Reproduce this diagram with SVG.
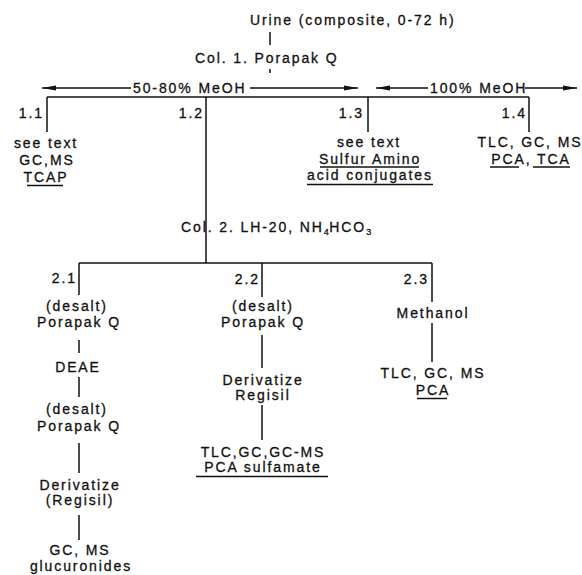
<svg xmlns="http://www.w3.org/2000/svg" width="582" height="575" viewBox="0 0 582 575">
<style>
.t{font-family:"Liberation Sans",Arial,Helvetica,sans-serif;font-size:14px;letter-spacing:1.9px;fill:#111;stroke:#111;stroke-width:0.3}
.m{text-anchor:middle}
.e{text-anchor:end}
.sub{font-size:9px;letter-spacing:0.5px}
.ln{stroke:#111;stroke-width:1.5;fill:none}
.ul{stroke:#111;stroke-width:1.5}
</style>
<defs>
<marker id="ah" viewBox="0 0 14 6" refX="14" refY="3" markerWidth="14" markerHeight="6" orient="auto-start-reverse" markerUnits="userSpaceOnUse">
<path d="M0,0.5 L14,3 L0,5.5 Z" fill="#111"/>
</marker>
</defs>
<rect width="582" height="575" fill="#fff"/>
<g id="connectors">
<line class="ln" x1="270" y1="32" x2="270" y2="45"/>
<line class="ln" x1="270" y1="69" x2="270" y2="73" stroke-width="1"/>
<line class="ln" x1="42" y1="88" x2="131" y2="88" marker-start="url(#ah)"/>
<line class="ln" x1="250" y1="88" x2="358" y2="88" marker-end="url(#ah)"/>
<line class="ln" x1="376" y1="88" x2="428" y2="88" marker-start="url(#ah)"/>
<line class="ln" x1="525" y1="88" x2="577" y2="88" marker-end="url(#ah)"/>
<line class="ln" x1="47" y1="97" x2="529" y2="97"/>
<line class="ln" x1="47" y1="97" x2="47" y2="132"/>
<line class="ln" x1="206" y1="97" x2="206" y2="263"/>
<line class="ln" x1="368" y1="97" x2="368" y2="132"/>
<line class="ln" x1="529" y1="97" x2="529" y2="132"/>
<line class="ln" x1="79" y1="263" x2="432" y2="263"/>
<line class="ln" x1="79" y1="263" x2="79" y2="295"/>
<line class="ln" x1="262" y1="263" x2="262" y2="297"/>
<line class="ln" x1="432" y1="263" x2="432" y2="302"/>
<line class="ln" x1="79" y1="340" x2="79" y2="353"/>
<line class="ln" x1="79" y1="377" x2="79" y2="397"/>
<line class="ln" x1="79" y1="443" x2="79" y2="473"/>
<line class="ln" x1="79" y1="515" x2="79" y2="540"/>
<line class="ln" x1="262" y1="335" x2="262" y2="368"/>
<line class="ln" x1="262" y1="405" x2="262" y2="440"/>
<line class="ln" x1="432" y1="323" x2="432" y2="362"/>
</g>
<g id="urine"><text class="t" x="250" y="25">Urine (composite, 0-72 h)</text></g>
<g id="col1"><text class="t" x="195" y="63">Col. 1. Porapak Q</text></g>
<g id="meoh5080"><text class="t" x="133" y="93">50-80% MeOH</text></g>
<g id="meoh100"><text class="t" x="430" y="93">100% MeOH</text></g>
<g id="n11">
<text class="t e" x="44" y="118">1.1</text>
<text class="t m" x="46" y="148">see text</text>
<text class="t m" x="47" y="165">GC,MS</text>
<text class="t m" x="46" y="182">TCAP</text>
<line class="ul" x1="27" y1="185.5" x2="63" y2="185.5"/>
</g>
<g id="n12"><text class="t e" x="204" y="118">1.2</text></g>
<g id="n13">
<text class="t e" x="364" y="118">1.3</text>
<text class="t m" x="369" y="147">see text</text>
<text class="t m" x="370" y="164">Sulfur Amino</text>
<line class="ul" x1="320" y1="167" x2="419" y2="167"/>
<text class="t m" x="370" y="180">acid conjugates</text>
<line class="ul" x1="307" y1="184.5" x2="433" y2="184.5"/>
</g>
<g id="n14">
<text class="t e" x="527" y="118">1.4</text>
<text class="t m" x="530" y="147">TLC, GC, MS</text>
<text class="t m" x="531" y="164">PCA, TCA</text>
<line class="ul" x1="490" y1="167" x2="519" y2="167"/>
<line class="ul" x1="533" y1="167" x2="570" y2="167"/>
</g>
<g id="col2"><text class="t" x="181" y="232">Col. 2. LH-20, NH<tspan class="sub" dy="3">4</tspan><tspan dy="-3">HCO</tspan><tspan class="sub" dy="3">3</tspan></text></g>
<g id="n21">
<text class="t e" x="77" y="283">2.1</text>
<text class="t m" x="77" y="311">(desalt)</text>
<text class="t m" x="79" y="327">Porapak Q</text>
<text class="t m" x="78" y="372">DEAE</text>
<text class="t m" x="77" y="414">(desalt)</text>
<text class="t m" x="79" y="431">Porapak Q</text>
<text class="t m" x="80" y="490">Derivatize</text>
<text class="t m" x="80" y="505">(Regisil)</text>
<text class="t m" x="80" y="555">GC, MS</text>
<text class="t m" x="81" y="571">glucuronides</text>
</g>
<g id="n22">
<text class="t e" x="260" y="284">2.2</text>
<text class="t m" x="263" y="311">(desalt)</text>
<text class="t m" x="263" y="327">Porapak Q</text>
<text class="t m" x="263" y="385">Derivatize</text>
<text class="t m" x="263" y="400">Regisil</text>
<text class="t m" x="263" y="457">TLC,GC,GC-MS</text>
<text class="t m" x="263" y="472">PCA sulfamate</text>
<line class="ul" x1="196" y1="476.5" x2="328" y2="476.5"/>
</g>
<g id="n23">
<text class="t e" x="429" y="284">2.3</text>
<text class="t m" x="433" y="318">Methanol</text>
<text class="t m" x="433" y="378">TLC, GC, MS</text>
<text class="t m" x="433" y="395">PCA</text>
<line class="ul" x1="417" y1="398.5" x2="447" y2="398.5"/>
</g>
</svg>
